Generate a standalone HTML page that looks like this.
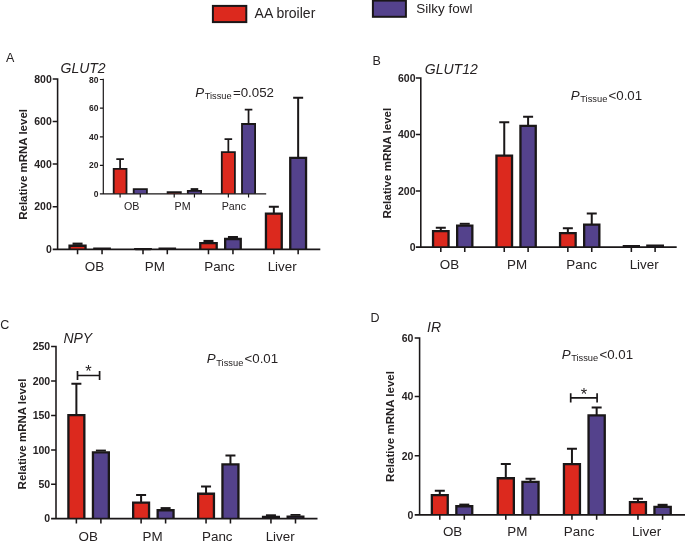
<!DOCTYPE html>
<html lang="en"><head><meta charset="utf-8"><title>Figure</title>
<style>
html,body{margin:0;padding:0;background:#fff;}
body{width:685px;height:541px;overflow:hidden;}
svg{display:block;will-change:transform;}
svg text{font-family:"Liberation Sans",sans-serif;fill:#262223;}
</style></head><body>
<svg width="685" height="541" viewBox="0 0 685 541">
<rect width="685" height="541" fill="#fff"/>
<rect x="212.9" y="5.9" width="33.4" height="16.2" fill="#DC291E" stroke="#1a1718" stroke-width="2"/>
<text x="254.6" y="18.1" font-size="14">AA broiler</text>
<rect x="372.9" y="0.6" width="33" height="16.2" fill="#54428C" stroke="#1a1718" stroke-width="2"/>
<text x="416.2" y="12.7" font-size="13.5">Silky fowl</text>
<text x="6" y="62.2" font-size="12.5">A</text>
<text x="372.6" y="64.7" font-size="12.5">B</text>
<text x="0.2" y="329.4" font-size="12.5">C</text>
<text x="370.4" y="322.3" font-size="12.5">D</text>
<text x="60.5" y="72.9" font-size="14" font-style="italic">GLUT2</text>
<text x="424.8" y="73.8" font-size="14" font-style="italic">GLUT12</text>
<text x="63.4" y="342.9" font-size="14" font-style="italic">NPY</text>
<text x="427" y="331.9" font-size="14" font-style="italic">IR</text>
<rect x="72.55" y="242.60" width="10.00" height="2.30" fill="#1a1718"/>
<rect x="69.55" y="245.75" width="16.00" height="3.60" fill="#DC291E"/>
<path d="M69.55 249.35V245.75H85.55V249.35" stroke="#1a1718" stroke-width="2.3" fill="none" stroke-linejoin="miter"/>
<path d="M94.35 249.35V248.75H109.75V249.35" stroke="#1a1718" stroke-width="2.3" fill="none" stroke-linejoin="miter"/>
<path d="M135.25 249.35V249.15H150.75V249.35" stroke="#1a1718" stroke-width="2.3" fill="none" stroke-linejoin="miter"/>
<path d="M159.65 249.35V248.65H174.95V249.35" stroke="#1a1718" stroke-width="2.3" fill="none" stroke-linejoin="miter"/>
<rect x="203.47" y="239.90" width="10.00" height="2.30" fill="#1a1718"/>
<rect x="200.25" y="243.05" width="16.45" height="6.30" fill="#DC291E"/>
<path d="M200.25 249.35V243.05H216.70V249.35" stroke="#1a1718" stroke-width="2.3" fill="none" stroke-linejoin="miter"/>
<rect x="227.95" y="236.00" width="10.00" height="2.15" fill="#1a1718"/>
<rect x="225.15" y="239.00" width="15.60" height="10.35" fill="#54428C"/>
<path d="M225.15 249.35V239.00H240.75V249.35" stroke="#1a1718" stroke-width="2.3" fill="none" stroke-linejoin="miter"/>
<path d="M273.85 213.55V206.80M268.85 206.80H278.85" stroke="#1a1718" stroke-width="2.0" fill="none"/>
<rect x="265.95" y="213.55" width="15.80" height="35.80" fill="#DC291E"/>
<path d="M265.95 249.35V213.55H281.75V249.35" stroke="#1a1718" stroke-width="2.3" fill="none" stroke-linejoin="miter"/>
<path d="M298.15 157.95V97.80M293.15 97.80H303.15" stroke="#1a1718" stroke-width="2.0" fill="none"/>
<rect x="290.25" y="157.95" width="15.80" height="91.40" fill="#54428C"/>
<path d="M290.25 249.35V157.95H306.05V249.35" stroke="#1a1718" stroke-width="2.3" fill="none" stroke-linejoin="miter"/>
<path d="M57.60 78.22V249.35H320.30M52.70 79.00H57.60M52.70 121.50H57.60M52.70 164.00H57.60M52.70 206.70H57.60M52.70 249.35H57.60M77.55 249.35V254.15M102.05 249.35V254.15M143.00 249.35V254.15M167.30 249.35V254.15M208.47 249.35V254.15M232.95 249.35V254.15M273.85 249.35V254.15M298.15 249.35V254.15" stroke="#1a1718" stroke-width="1.55" fill="none" stroke-linejoin="miter"/>
<text x="51.80" y="82.76" font-size="10.5" font-weight="bold" text-anchor="end">800</text>
<text x="51.80" y="125.26" font-size="10.5" font-weight="bold" text-anchor="end">600</text>
<text x="51.80" y="167.76" font-size="10.5" font-weight="bold" text-anchor="end">400</text>
<text x="51.80" y="210.46" font-size="10.5" font-weight="bold" text-anchor="end">200</text>
<text x="51.80" y="253.11" font-size="10.5" font-weight="bold" text-anchor="end">0</text>
<text x="94.40" y="270.50" font-size="13.4" text-anchor="middle">OB</text>
<text x="154.80" y="270.50" font-size="13.4" text-anchor="middle">PM</text>
<text x="219.50" y="270.50" font-size="13.4" text-anchor="middle">Panc</text>
<text x="282.20" y="270.50" font-size="13.4" text-anchor="middle">Liver</text>
<path d="M120.10 168.80V159.00M116.30 159.00H123.90" stroke="#1a1718" stroke-width="1.75" fill="none"/>
<rect x="113.70" y="168.80" width="12.80" height="25.00" fill="#DC291E"/>
<path d="M113.70 193.80V168.80H126.50V193.80" stroke="#1a1718" stroke-width="1.8" fill="none" stroke-linejoin="miter"/>
<rect x="133.70" y="189.20" width="13.20" height="4.60" fill="#54428C"/>
<path d="M133.70 193.80V189.20H146.90V193.80" stroke="#1a1718" stroke-width="1.8" fill="none" stroke-linejoin="miter"/>
<rect x="167.60" y="192.20" width="13.25" height="1.60" fill="#DC291E"/>
<path d="M167.60 193.80V192.20H180.85V193.80" stroke="#1a1718" stroke-width="1.8" fill="none" stroke-linejoin="miter"/>
<rect x="190.65" y="188.12" width="7.60" height="2.17" fill="#1a1718"/>
<rect x="187.80" y="190.90" width="13.30" height="2.90" fill="#54428C"/>
<path d="M187.80 193.80V190.90H201.10V193.80" stroke="#1a1718" stroke-width="1.8" fill="none" stroke-linejoin="miter"/>
<path d="M228.35 152.10V139.00M224.55 139.00H232.15" stroke="#1a1718" stroke-width="1.75" fill="none"/>
<rect x="221.80" y="152.10" width="13.10" height="41.70" fill="#DC291E"/>
<path d="M221.80 193.80V152.10H234.90V193.80" stroke="#1a1718" stroke-width="1.8" fill="none" stroke-linejoin="miter"/>
<path d="M248.55 124.00V109.60M244.75 109.60H252.35" stroke="#1a1718" stroke-width="1.75" fill="none"/>
<rect x="242.00" y="124.00" width="13.10" height="69.80" fill="#54428C"/>
<path d="M242.00 193.80V124.00H255.10V193.80" stroke="#1a1718" stroke-width="1.8" fill="none" stroke-linejoin="miter"/>
<path d="M103.30 78.80V193.80H266.20M99.90 79.50H103.30M99.90 108.20H103.30M99.90 136.80H103.30M99.90 165.30H103.30M99.90 193.80H103.30M120.10 193.80V197.60M140.30 193.80V197.60M174.22 193.80V197.60M194.45 193.80V197.60M228.35 193.80V197.60M248.55 193.80V197.60" stroke="#1a1718" stroke-width="1.2" fill="none" stroke-linejoin="miter"/>
<text x="98.50" y="82.54" font-size="8.5" font-weight="bold" text-anchor="end">80</text>
<text x="98.50" y="111.24" font-size="8.5" font-weight="bold" text-anchor="end">60</text>
<text x="98.50" y="139.84" font-size="8.5" font-weight="bold" text-anchor="end">40</text>
<text x="98.50" y="168.34" font-size="8.5" font-weight="bold" text-anchor="end">20</text>
<text x="98.50" y="196.84" font-size="8.5" font-weight="bold" text-anchor="end">0</text>
<text x="131.70" y="209.60" font-size="10.7" text-anchor="middle">OB</text>
<text x="182.60" y="209.60" font-size="10.7" text-anchor="middle">PM</text>
<text x="233.90" y="209.60" font-size="10.7" text-anchor="middle">Panc</text>
<text transform="translate(26.50 164.40) rotate(-90)" font-size="11.5" font-weight="bold" text-anchor="middle">Relative mRNA level</text>
<text x="195.20" y="96.80" font-size="13.3"><tspan font-style="italic">P</tspan><tspan font-size="9.3" dy="2.6" dx="0.6">Tissue</tspan><tspan dy="-2.6" dx="1.2">=0.052</tspan></text>
<path d="M440.80 231.15V227.80M435.80 227.80H445.80" stroke="#1a1718" stroke-width="2.0" fill="none"/>
<rect x="433.05" y="231.15" width="15.50" height="15.95" fill="#DC291E"/>
<path d="M433.05 247.10V231.15H448.55V247.10" stroke="#1a1718" stroke-width="2.3" fill="none" stroke-linejoin="miter"/>
<rect x="459.75" y="222.80" width="10.00" height="2.00" fill="#1a1718"/>
<rect x="457.15" y="225.65" width="15.20" height="21.45" fill="#54428C"/>
<path d="M457.15 247.10V225.65H472.35V247.10" stroke="#1a1718" stroke-width="2.3" fill="none" stroke-linejoin="miter"/>
<path d="M504.25 155.55V122.20M499.25 122.20H509.25" stroke="#1a1718" stroke-width="2.0" fill="none"/>
<rect x="496.45" y="155.55" width="15.60" height="91.55" fill="#DC291E"/>
<path d="M496.45 247.10V155.55H512.05V247.10" stroke="#1a1718" stroke-width="2.3" fill="none" stroke-linejoin="miter"/>
<path d="M528.10 125.85V116.70M523.10 116.70H533.10" stroke="#1a1718" stroke-width="2.0" fill="none"/>
<rect x="520.45" y="125.85" width="15.30" height="121.25" fill="#54428C"/>
<path d="M520.45 247.10V125.85H535.75V247.10" stroke="#1a1718" stroke-width="2.3" fill="none" stroke-linejoin="miter"/>
<path d="M567.85 233.15V228.30M562.85 228.30H572.85" stroke="#1a1718" stroke-width="2.0" fill="none"/>
<rect x="560.05" y="233.15" width="15.60" height="13.95" fill="#DC291E"/>
<path d="M560.05 247.10V233.15H575.65V247.10" stroke="#1a1718" stroke-width="2.3" fill="none" stroke-linejoin="miter"/>
<path d="M591.75 224.65V213.60M586.75 213.60H596.75" stroke="#1a1718" stroke-width="2.0" fill="none"/>
<rect x="584.15" y="224.65" width="15.20" height="22.45" fill="#54428C"/>
<path d="M584.15 247.10V224.65H599.35V247.10" stroke="#1a1718" stroke-width="2.3" fill="none" stroke-linejoin="miter"/>
<path d="M623.85 247.10V246.25H638.85V247.10" stroke="#1a1718" stroke-width="2.3" fill="none" stroke-linejoin="miter"/>
<rect x="647.35" y="245.65" width="15.50" height="1.45" fill="#54428C"/>
<path d="M647.35 247.10V245.65H662.85V247.10" stroke="#1a1718" stroke-width="2.3" fill="none" stroke-linejoin="miter"/>
<path d="M420.80 77.22V247.10H676.70M415.90 78.00H420.80M415.90 134.50H420.80M415.90 190.90H420.80M415.90 247.10H420.80M440.80 247.10V251.90M464.75 247.10V251.90M504.25 247.10V251.90M528.10 247.10V251.90M567.85 247.10V251.90M591.75 247.10V251.90M631.35 247.10V251.90M655.10 247.10V251.90" stroke="#1a1718" stroke-width="1.55" fill="none" stroke-linejoin="miter"/>
<text x="415.55" y="81.76" font-size="10.5" font-weight="bold" text-anchor="end">600</text>
<text x="415.55" y="138.26" font-size="10.5" font-weight="bold" text-anchor="end">400</text>
<text x="415.55" y="194.66" font-size="10.5" font-weight="bold" text-anchor="end">200</text>
<text x="415.55" y="250.86" font-size="10.5" font-weight="bold" text-anchor="end">0</text>
<text x="449.50" y="268.80" font-size="13.4" text-anchor="middle">OB</text>
<text x="517.00" y="268.80" font-size="13.4" text-anchor="middle">PM</text>
<text x="581.60" y="268.80" font-size="13.4" text-anchor="middle">Panc</text>
<text x="644.20" y="268.80" font-size="13.4" text-anchor="middle">Liver</text>
<text transform="translate(391.40 163.20) rotate(-90)" font-size="11.5" font-weight="bold" text-anchor="middle">Relative mRNA level</text>
<text x="570.80" y="99.60" font-size="13.3"><tspan font-style="italic">P</tspan><tspan font-size="9.3" dy="2.6" dx="0.6">Tissue</tspan><tspan dy="-2.6" dx="1.2">&lt;0.01</tspan></text>
<path d="M76.38 415.20V383.70M71.38 383.70H81.38" stroke="#1a1718" stroke-width="2.0" fill="none"/>
<rect x="68.40" y="415.20" width="15.95" height="103.40" fill="#DC291E"/>
<path d="M68.40 518.60V415.20H84.35V518.60" stroke="#1a1718" stroke-width="2.3" fill="none" stroke-linejoin="miter"/>
<rect x="95.90" y="449.60" width="10.00" height="1.90" fill="#1a1718"/>
<rect x="92.95" y="452.35" width="15.90" height="66.25" fill="#54428C"/>
<path d="M92.95 518.60V452.35H108.85V518.60" stroke="#1a1718" stroke-width="2.3" fill="none" stroke-linejoin="miter"/>
<path d="M141.10 502.55V494.90M136.10 494.90H146.10" stroke="#1a1718" stroke-width="2.0" fill="none"/>
<rect x="133.15" y="502.55" width="15.90" height="16.05" fill="#DC291E"/>
<path d="M133.15 518.60V502.55H149.05V518.60" stroke="#1a1718" stroke-width="2.3" fill="none" stroke-linejoin="miter"/>
<rect x="160.60" y="507.10" width="10.00" height="2.30" fill="#1a1718"/>
<rect x="157.65" y="510.25" width="15.90" height="8.35" fill="#54428C"/>
<path d="M157.65 518.60V510.25H173.55V518.60" stroke="#1a1718" stroke-width="2.3" fill="none" stroke-linejoin="miter"/>
<path d="M206.05 493.75V486.60M201.05 486.60H211.05" stroke="#1a1718" stroke-width="2.0" fill="none"/>
<rect x="198.15" y="493.75" width="15.80" height="24.85" fill="#DC291E"/>
<path d="M198.15 518.60V493.75H213.95V518.60" stroke="#1a1718" stroke-width="2.3" fill="none" stroke-linejoin="miter"/>
<path d="M230.45 464.45V455.50M225.45 455.50H235.45" stroke="#1a1718" stroke-width="2.0" fill="none"/>
<rect x="222.45" y="464.45" width="16.00" height="54.15" fill="#54428C"/>
<path d="M222.45 518.60V464.45H238.45V518.60" stroke="#1a1718" stroke-width="2.3" fill="none" stroke-linejoin="miter"/>
<rect x="265.95" y="514.30" width="10.00" height="1.80" fill="#1a1718"/>
<rect x="263.05" y="516.95" width="15.80" height="1.65" fill="#DC291E"/>
<path d="M263.05 518.60V516.95H278.85V518.60" stroke="#1a1718" stroke-width="2.3" fill="none" stroke-linejoin="miter"/>
<rect x="290.50" y="514.00" width="10.00" height="1.80" fill="#1a1718"/>
<rect x="287.65" y="516.65" width="15.70" height="1.95" fill="#54428C"/>
<path d="M287.65 518.60V516.65H303.35V518.60" stroke="#1a1718" stroke-width="2.3" fill="none" stroke-linejoin="miter"/>
<path d="M56.00 345.73V518.60H317.50M51.10 346.50H56.00M51.10 381.00H56.00M51.10 415.50H56.00M51.10 450.00H56.00M51.10 484.30H56.00M51.10 518.60H56.00M76.38 518.60V523.40M100.90 518.60V523.40M141.10 518.60V523.40M165.60 518.60V523.40M206.05 518.60V523.40M230.45 518.60V523.40M270.95 518.60V523.40M295.50 518.60V523.40" stroke="#1a1718" stroke-width="1.55" fill="none" stroke-linejoin="miter"/>
<text x="50.20" y="350.26" font-size="10.5" font-weight="bold" text-anchor="end">250</text>
<text x="50.20" y="384.76" font-size="10.5" font-weight="bold" text-anchor="end">200</text>
<text x="50.20" y="419.26" font-size="10.5" font-weight="bold" text-anchor="end">150</text>
<text x="50.20" y="453.76" font-size="10.5" font-weight="bold" text-anchor="end">100</text>
<text x="50.20" y="488.06" font-size="10.5" font-weight="bold" text-anchor="end">50</text>
<text x="50.20" y="522.36" font-size="10.5" font-weight="bold" text-anchor="end">0</text>
<text x="88.20" y="540.60" font-size="13.4" text-anchor="middle">OB</text>
<text x="152.50" y="540.60" font-size="13.4" text-anchor="middle">PM</text>
<text x="217.30" y="540.60" font-size="13.4" text-anchor="middle">Panc</text>
<text x="280.20" y="540.60" font-size="13.4" text-anchor="middle">Liver</text>
<text transform="translate(26.40 434.00) rotate(-90)" font-size="11.5" font-weight="bold" text-anchor="middle">Relative mRNA level</text>
<text x="206.80" y="363.10" font-size="13.3"><tspan font-style="italic">P</tspan><tspan font-size="9.3" dy="2.6" dx="0.6">Tissue</tspan><tspan dy="-2.6" dx="1.2">&lt;0.01</tspan></text>
<path d="M77.50 371.00V380.00M77.50 375.50H99.60M99.60 371.00V380.00" stroke="#1a1718" stroke-width="1.7" fill="none"/>
<text x="88.55" y="377.00" font-size="16.5" text-anchor="middle">*</text>
<path d="M439.80 495.15V490.80M434.80 490.80H444.80" stroke="#1a1718" stroke-width="2.0" fill="none"/>
<rect x="431.85" y="495.15" width="15.90" height="19.70" fill="#DC291E"/>
<path d="M431.85 514.85V495.15H447.75V514.85" stroke="#1a1718" stroke-width="2.3" fill="none" stroke-linejoin="miter"/>
<rect x="459.30" y="503.60" width="10.00" height="1.80" fill="#1a1718"/>
<rect x="456.35" y="506.25" width="15.90" height="8.60" fill="#54428C"/>
<path d="M456.35 514.85V506.25H472.25V514.85" stroke="#1a1718" stroke-width="2.3" fill="none" stroke-linejoin="miter"/>
<path d="M505.80 478.25V464.00M500.80 464.00H510.80" stroke="#1a1718" stroke-width="2.0" fill="none"/>
<rect x="497.75" y="478.25" width="16.10" height="36.60" fill="#DC291E"/>
<path d="M497.75 514.85V478.25H513.85V514.85" stroke="#1a1718" stroke-width="2.3" fill="none" stroke-linejoin="miter"/>
<path d="M530.50 481.85V478.80M525.50 478.80H535.50" stroke="#1a1718" stroke-width="2.0" fill="none"/>
<rect x="522.45" y="481.85" width="16.10" height="33.00" fill="#54428C"/>
<path d="M522.45 514.85V481.85H538.55V514.85" stroke="#1a1718" stroke-width="2.3" fill="none" stroke-linejoin="miter"/>
<path d="M571.95 464.15V448.80M566.95 448.80H576.95" stroke="#1a1718" stroke-width="2.0" fill="none"/>
<rect x="563.95" y="464.15" width="16.00" height="50.70" fill="#DC291E"/>
<path d="M563.95 514.85V464.15H579.95V514.85" stroke="#1a1718" stroke-width="2.3" fill="none" stroke-linejoin="miter"/>
<path d="M596.65 415.35V407.50M591.65 407.50H601.65" stroke="#1a1718" stroke-width="2.0" fill="none"/>
<rect x="588.55" y="415.35" width="16.20" height="99.50" fill="#54428C"/>
<path d="M588.55 514.85V415.35H604.75V514.85" stroke="#1a1718" stroke-width="2.3" fill="none" stroke-linejoin="miter"/>
<path d="M637.95 502.05V498.70M632.95 498.70H642.95" stroke="#1a1718" stroke-width="2.0" fill="none"/>
<rect x="629.95" y="502.05" width="16.00" height="12.80" fill="#DC291E"/>
<path d="M629.95 514.85V502.05H645.95V514.85" stroke="#1a1718" stroke-width="2.3" fill="none" stroke-linejoin="miter"/>
<rect x="657.60" y="503.80" width="10.00" height="2.30" fill="#1a1718"/>
<rect x="654.45" y="506.95" width="16.30" height="7.90" fill="#54428C"/>
<path d="M654.45 514.85V506.95H670.75V514.85" stroke="#1a1718" stroke-width="2.3" fill="none" stroke-linejoin="miter"/>
<path d="M419.60 337.23V514.85H686.00M414.70 338.00H419.60M414.70 396.50H419.60M414.70 455.80H419.60M414.70 514.85H419.60M439.80 514.85V519.65M464.30 514.85V519.65M505.80 514.85V519.65M530.50 514.85V519.65M571.95 514.85V519.65M596.65 514.85V519.65M637.95 514.85V519.65M662.60 514.85V519.65" stroke="#1a1718" stroke-width="1.55" fill="none" stroke-linejoin="miter"/>
<text x="413.40" y="341.76" font-size="10.5" font-weight="bold" text-anchor="end">60</text>
<text x="413.40" y="400.26" font-size="10.5" font-weight="bold" text-anchor="end">40</text>
<text x="413.40" y="459.56" font-size="10.5" font-weight="bold" text-anchor="end">20</text>
<text x="413.40" y="518.61" font-size="10.5" font-weight="bold" text-anchor="end">0</text>
<text x="452.60" y="535.70" font-size="13.4" text-anchor="middle">OB</text>
<text x="517.30" y="535.70" font-size="13.4" text-anchor="middle">PM</text>
<text x="579.10" y="535.70" font-size="13.4" text-anchor="middle">Panc</text>
<text x="646.60" y="535.70" font-size="13.4" text-anchor="middle">Liver</text>
<text transform="translate(394.40 426.50) rotate(-90)" font-size="11.5" font-weight="bold" text-anchor="middle">Relative mRNA level</text>
<text x="561.70" y="358.60" font-size="13.3"><tspan font-style="italic">P</tspan><tspan font-size="9.3" dy="2.6" dx="0.6">Tissue</tspan><tspan dy="-2.6" dx="1.2">&lt;0.01</tspan></text>
<path d="M570.70 393.20V402.40M570.70 397.80H597.10M597.10 393.20V402.40" stroke="#1a1718" stroke-width="1.7" fill="none"/>
<text x="583.90" y="400.00" font-size="16.5" text-anchor="middle">*</text>
</svg>
</body></html>
